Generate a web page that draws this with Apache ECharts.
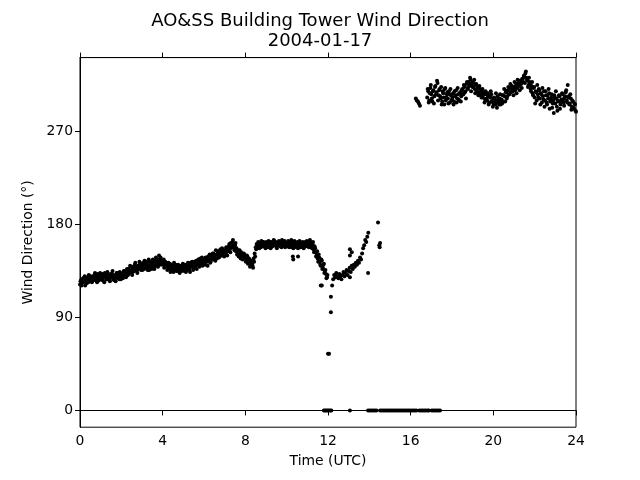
<!DOCTYPE html>
<html>
<head>
<meta charset="utf-8">
<script src="https://cdn.jsdelivr.net/npm/echarts@6/dist/echarts.min.js"></script>
<style>html,body{margin:0;padding:0;background:#fff;}#c{width:640px;height:480px;}</style>
</head>
<body>
<div id="c"></div>
<script>
// ---- data (hours UTC, wind direction in degrees) ----
const titleText = "AO&SS Building Tower Wind Direction\n2004-01-17";
const xTicks = [0, 4, 8, 12, 16, 20, 24];
const yTicks = [0, 90, 180, 270];
const stepH = 0.05;

// 00:00 - 11:57, every 0.05 h
const dirAStart = 0;
const dirA = [
 122,126,124,128,125,121,127,129,124,126,130,127,125,129,131,126,128,132,127,129,
 131,128,126,130,133,129,127,131,128,125,130,132,128,126,131,129,133,130,127,131,
 129,133,131,135,132,130,134,137,133,139,136,134,138,141,137,135,140,138,142,136,
 139,143,137,141,138,144,140,136,142,139,143,141,137,145,140,143,146,141,148,144,
 142,146,140,143,139,141,137,142,138,136,140,143,137,139,135,141,138,136,140,137,
 139,135,138,141,136,140,137,143,139,141,138,144,140,137,143,146,141,144,148,142,
 145,141,147,144,149,146,143,150,147,152,148,145,151,154,149,152,156,150,153,151,
 155,152,157,154,159,156,162,158,165,157,160,154,151,155,152,149,153,150,147,151,
 148,145,149,143,146,141,144,140,147,152,158,161,159,162,160,158,161,163,159,161,
 160,162,158,161,163,159,162,160,164,161,159,162,160,163,161,158,162,160,164,161,
 162,159,161,163,160,158,161,163,159,162,160,157,161,159,162,160,158,161,163,160,
 159,162,160,163,158,161,156,159,153,150,147,151,144,140,145,138,142,135,132,129
];
// 00:01:30 - 11:58:30, every 0.05 h (readings in between)
const dirA2Start = 0.025;
const dirA2 = [
 125,121,127,124,130,126,123,128,131,125,128,124,130,127,133,129,124,130,126,133,
 127,132,129,124,131,127,134,128,126,132,129,135,127,130,125,133,128,131,134,127,
 132,128,135,133,129,137,131,135,140,134,131,139,135,143,139,133,137,144,138,141,
 136,141,145,138,143,136,146,139,144,137,146,139,144,148,142,139,150,143,145,141,
 145,138,144,141,136,143,139,134,141,139,134,137,141,135,140,137,133,139,135,142,
 136,141,134,139,143,137,134,140,144,136,142,139,145,141,146,139,147,143,140,146,
 142,148,145,140,146,151,144,148,152,146,150,155,147,151,148,155,150,157,154,149,
 153,158,150,156,161,153,159,163,160,155,162,157,153,149,155,147,151,146,152,148,
 144,150,142,147,139,145,142,138,144,149,156,159,163,157,161,164,159,163,160,157,
 163,159,164,160,157,163,159,165,160,163,157,161,164,159,162,165,160,163,158,162,
 159,164,158,161,165,162,157,164,160,158,163,160,164,158,161,163,157,162,159,164,
 162,158,165,160,157,163,153,157,149,154,144,148,141,146,137,141,133,136,128,131
];

// 12:15 - 13:57 recovery, every 0.05 h
const dirBStart = 12.25;
const dirB = [
 127,131,129,133,130,128,132,130,127,131,134,130,133,136,131,135,138,134,140,137,
 141,139,143,141,145,143,148,146,152,157,160,165,163,168,172
];

// 16:15 - 24:00, every 0.05 h (null = no reading)
const dirCStart = 16.25;
const dirC = [
 302,300,299,297,295,null,null,null,null,null,null,
 303,309,300,312,306,299,310,304,314,308,317,305,311,302,296,309,303,311,300,306,302,309,298,305,
 301,307,299,304,310,302,306,300,308,304,311,306,313,309,316,312,318,314,320,316,
 313,317,311,315,309,313,307,311,305,309,303,307,301,306,300,304,298,303,306,300,
 297,302,296,300,304,298,302,296,301,305,299,304,308,302,310,306,312,308,314,309,
 313,310,316,312,317,314,319,316,321,318,323,326,322,319,315,318,311,314,307,312,
 303,309,300,306,311,302,307,298,304,309,300,305,296,302,307,299,303,293,300,305,
 297,302,290,299,304,296,301,306,298,303,308,300,315,304,297,302,294,299,292,296,289
];
// 16:49:30 - 23:58:30, every 0.05 h (readings in between)
const dirC2Start = 16.825;
const dirC2 = [
 311,298,307,315,302,309,297,313,306,319,300,310,304,313,299,307,296,312,303,308,
 297,306,311,300,303,296,309,305,298,312,301,307,299,310,306,315,308,302,318,311,
 316,322,309,318,313,320,307,316,311,305,314,308,303,311,306,298,309,302,307,296,
 305,309,299,294,303,298,307,293,301,296,306,300,297,305,311,299,309,304,313,306,
 316,309,311,305,318,313,307,320,315,310,317,312,321,324,317,328,320,313,322,316,
 309,318,305,313,297,308,315,303,310,296,306,312,301,294,309,298,305,311,292,301,
 306,297,288,303,309,294,300,305,292,298,307,301,295,304,310,298,303,296,306,291,
 300,293,297,290
];

// isolated readings
const extraTime = [10.30, 10.32, 10.55, 11.65, 11.70, 12.00, 12.05, 12.14, 12.14, 12.20, 13.06, 13.06, 13.15, 13.06, 13.94, 14.42, 14.48, 14.50, 14.52];
const extraDir  = [149,   146,   149,   121,   121,   55,    55,    110,   95,    121,   150,   156,   153,   129,   133,   182,   160,   158,   162];

// calm (0 deg) readings
const zeroTime = [
 11.80,11.86,11.92,11.98,12.04,12.10,12.16,13.06,
 13.94,14.02,14.10,14.18,14.26,14.34,
 14.52,14.60,14.68,14.76,14.84,14.92,15.00,15.08,15.16,15.24,15.32,15.40,15.48,15.56,15.64,15.72,15.80,15.88,15.96,16.04,16.12,16.20,16.28,
 16.42,16.50,16.58,16.66,16.74,16.82,16.88,
 17.02,17.10,17.18,17.26,17.34,17.42
];

// ---- build series data ----
function seg(start, vals) {
  const out = [];
  vals.forEach((v, i) => { if (v !== null) out.push([+(start + i * stepH).toFixed(3), v]); });
  return out;
}
const points = []
  .concat(seg(dirAStart, dirA))
  .concat(seg(dirA2Start, dirA2))
  .concat(seg(dirBStart, dirB))
  .concat(seg(dirCStart, dirC))
  .concat(seg(dirC2Start, dirC2))
  .concat(extraTime.map((t, i) => [t, extraDir[i]]))
  .concat(zeroTime.map(t => [t, 0]));

const FONT = 'DejaVu Sans';
const chart = echarts.init(document.getElementById('c'), null, {renderer: 'canvas'});
chart.setOption({
  animation: false,
  backgroundColor: '#ffffff',
  title: {
    text: titleText,
    left: 'center',
    top: 6,
    textStyle: {fontFamily: FONT, fontSize: 18, fontWeight: 'normal', color: '#000', lineHeight: 20.5}
  },
  grid: {left: 80, top: 57.6, width: 496, height: 369.6, show: true, borderColor: '#000', borderWidth: 1, backgroundColor: 'transparent'},
  xAxis: [{
    type: 'value', min: 0, max: 24, interval: 4,
    name: 'Time (UTC)', nameLocation: 'middle', nameGap: 27,
    nameTextStyle: {fontFamily: FONT, fontSize: 13.9, color: '#000'},
    axisLine: {show: true, lineStyle: {color: '#000', width: 1}},
    axisTick: {show: true, inside: false, length: 5, lineStyle: {color: '#000'}},
    axisLabel: {fontFamily: FONT, fontSize: 13.9, color: '#000', margin: 7, customValues: xTicks},
    splitLine: {show: false}
  }, {
    type: 'value', min: 0, max: 24, interval: 4, position: 'top',
    axisLine: {show: true, lineStyle: {color: '#000', width: 1}},
    axisTick: {show: true, inside: false, length: 5, lineStyle: {color: '#000'}},
    axisLabel: {show: false},
    splitLine: {show: false}
  }],
  yAxis: {
    type: 'value', min: -16.2, max: 341.5,
    name: 'Wind Direction (°)', nameLocation: 'middle', nameGap: 40,
    nameTextStyle: {fontFamily: FONT, fontSize: 13.9, color: '#000'},
    axisLine: {show: true, lineStyle: {color: '#000', width: 1}},
    axisTick: {show: true, inside: false, length: 5, lineStyle: {color: '#000'}, customValues: yTicks},
    axisLabel: {fontFamily: FONT, fontSize: 13.9, color: '#000', margin: 7, customValues: yTicks},
    splitLine: {show: false}
  },
  series: [{
    type: 'scatter',
    xAxisIndex: 0,
    data: points,
    symbol: 'circle',
    symbolSize: 4,
    itemStyle: {color: '#000', opacity: 1},
    clip: true
  }]
});
</script>
</body>
</html>
